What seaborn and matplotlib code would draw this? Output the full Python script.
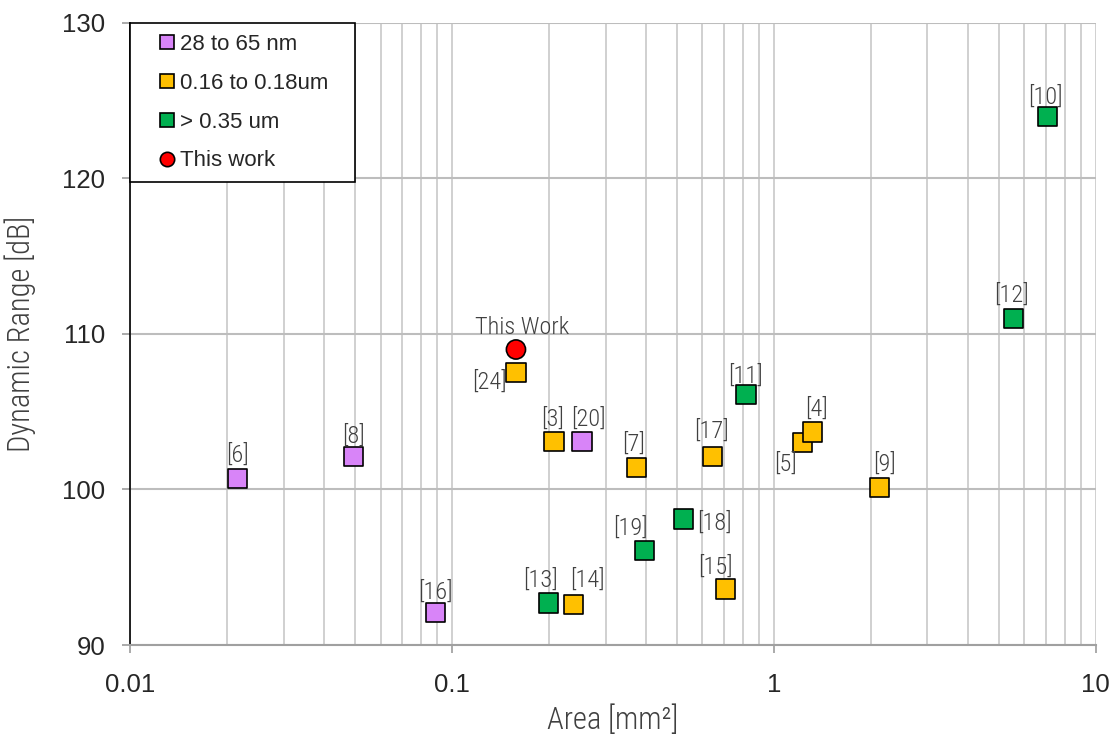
import matplotlib
matplotlib.use("Agg")
import matplotlib.pyplot as plt
import matplotlib.font_manager as fm
import seaborn as sns
import pandas as pd

refs = ["[6]", "[8]", "[16]", "This Work", "[24]", "[3]", "[20]", "[13]", "[14]", "[7]",
        "[19]", "[18]", "[17]", "[15]", "[11]", "[5]", "[4]", "[9]", "[12]", "[10]"]
area = [0.0216, 0.0493, 0.089, 0.158, 0.158, 0.2075, 0.2535, 0.199, 0.239, 0.375,
        0.397, 0.525, 0.646, 0.709, 0.819, 1.23, 1.32, 2.13, 5.56, 7.1]
dyn_range = [100.7, 102.1, 92.1, 109.0, 107.5, 103.1, 103.1, 92.7, 92.6, 101.4,
             96.1, 98.1, 102.1, 93.6, 106.1, 103.0, 103.7, 100.1, 111.0, 124.0]
group = ["28 to 65 nm", "28 to 65 nm", "28 to 65 nm", "This work", "0.16 to 0.18um",
         "0.16 to 0.18um", "28 to 65 nm", "> 0.35 um", "0.16 to 0.18um", "0.16 to 0.18um",
         "> 0.35 um", "> 0.35 um", "0.16 to 0.18um", "0.16 to 0.18um", "> 0.35 um",
         "0.16 to 0.18um", "0.16 to 0.18um", "0.16 to 0.18um", "> 0.35 um", "> 0.35 um"]
# label offsets from marker centre, in pixels (dx, dy up)
label_off = [(0, 23), (0, 21), (0, 20), (6, 22), (-27, -9), (-1, 22), (6, 22), (-8, 23),
             (14, 24), (-3, 24), (-14, 22), (31, -4), (-1, 26), (-10, 22), (0, 18),
             (-17, -21), (4, 23), (5, 24), (-2, 23), (-2, 19)]

groups = ["28 to 65 nm", "0.16 to 0.18um", "> 0.35 um", "This work"]
colors = ["#D884F8", "#FFC000", "#00B050", "#FF0000"]
markers = ["s", "s", "s", "o"]

names = {f.name for f in fm.fontManager.ttflist}
def pick(cands):
    for c in cands:
        if c in names:
            return c
    return "DejaVu Sans"

narrow = pick(["Roboto Condensed", "Arial Narrow", "Liberation Sans Narrow",
               "Archivo Narrow", "PT Sans Narrow", "Open Sans Condensed"])
thin = "light" if narrow == "Roboto Condensed" else "normal"

df = pd.DataFrame({"ref": refs, "area": area, "dr": dyn_range, "group": group})

sns.set_theme(style="white")
plt.rcParams["font.family"] = ["Liberation Sans", "DejaVu Sans"]

fig, ax = plt.subplots(figsize=(11.17, 7.38), dpi=100)
fig.subplots_adjust(left=0.1165, right=0.981, top=0.969, bottom=0.126)

sns.scatterplot(data=df, x="area", y="dr", hue="group", style="group",
                hue_order=groups, style_order=groups,
                palette=dict(zip(groups, colors)), markers=dict(zip(groups, markers)),
                s=190, edgecolor="black", linewidth=1.2, ax=ax, zorder=3)

ax.set_xscale("log")
ax.set_xlim(0.01, 10)
ax.set_ylim(90, 130)
ax.set_yticks([90, 100, 110, 120, 130])
ax.set_xticks([0.01, 0.1, 1, 10])
ax.set_xticklabels(["0.01", "0.1", "1", "10"])

ax.grid(True, which="both", axis="x", color="#c8c8c8", linewidth=1.2)
ax.grid(True, which="major", axis="y", color="#bdbdbd", linewidth=1.5)
ax.set_axisbelow(True)
for s in ["top", "right"]:
    ax.spines[s].set_visible(False)
ax.spines["left"].set_color("black")
ax.spines["left"].set_linewidth(1.2)
ax.spines["bottom"].set_color("#a0a0a0")
ax.spines["bottom"].set_linewidth(1.5)
ax.tick_params(axis="both", which="major", labelsize=18.5, length=6, color="#a0a0a0",
               direction="out", bottom=True, left=True)
ax.tick_params(axis="y", pad=12)
ax.tick_params(axis="x", pad=14)
ax.tick_params(axis="x", which="minor", bottom=False)

ax.set_xlabel("Area [mm²]", fontsize=22, color="#404040", family=narrow, fontweight=thin)
ax.set_ylabel("Dynamic Range [dB]", fontsize=22, color="#404040", family=narrow,
              fontweight=thin)
ax.xaxis.set_label_coords(0.5, -0.095)
ax.yaxis.set_label_coords(-0.097, 0.5)

for r, x, y, (dx, dy) in zip(refs, area, dyn_range, label_off):
    ax.annotate(r, (x, y), xytext=(dx, dy), textcoords="offset pixels",
                ha="center", va="center", fontsize=17.5, color="#404040",
                family=narrow, fontweight=thin, zorder=4)

handles, labels = ax.get_legend_handles_labels()
leg = ax.legend(handles, labels, loc="upper left", bbox_to_anchor=(0, 1, 0.233, 0),
                mode="expand", frameon=True, fancybox=False,
                edgecolor="black", framealpha=1, fontsize=16, borderaxespad=0,
                markerscale=0.75, handletextpad=-0.6, labelspacing=0.8,
                borderpad=0.5, handlelength=2.34)
leg.get_frame().set_linewidth(1.2)

fig.savefig("out.png", dpi=100)
